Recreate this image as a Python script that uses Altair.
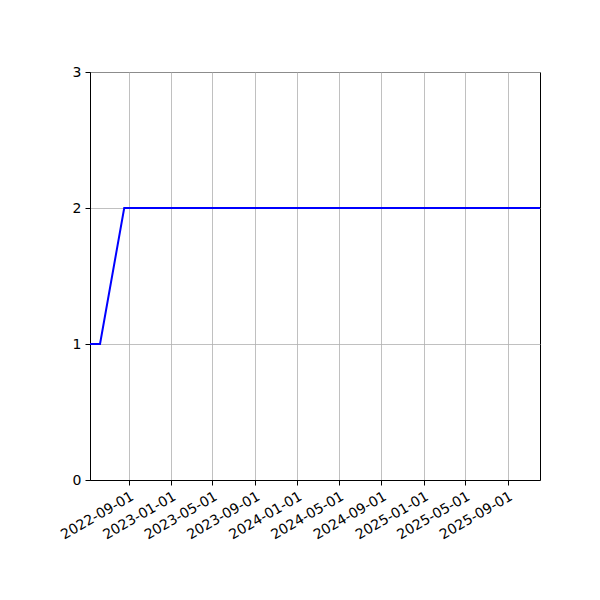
import pandas as pd
import altair as alt

# Data
dates = ['2022-05-12', '2022-06-10', '2022-08-19', '2025-12-04']
values = [1, 1, 2, 2]
tick_dates = [(2022, 9), (2023, 1), (2023, 5), (2023, 9), (2024, 1),
              (2024, 5), (2024, 9), (2025, 1), (2025, 5), (2025, 9)]
y_ticks = [0, 1, 2, 3]

df = pd.DataFrame({'date': dates, 'value': values})

tick_values = [alt.DateTime(year=y, month=m, date=1, utc=True) for y, m in tick_dates]
x_domain = [alt.DateTime(year=2022, month=5, date=12, utc=True),
            alt.DateTime(year=2025, month=12, date=4, utc=True)]

font = 'DejaVu Sans'

line = alt.Chart(df).mark_line(color='#0000ff', strokeWidth=2, clip=True).encode(
    x=alt.X('date:T',
            scale=alt.Scale(type='utc', domain=x_domain, nice=False),
            axis=alt.Axis(values=tick_values, format='%Y-%m-%d', title=None,
                          labelAngle=330, labelAlign='right', labelBaseline='top',
                          labelPadding=4, tickSize=5, tickColor='black',
                          domainColor='black', gridColor='#b0b0b0', gridWidth=0.8,
                          labelColor='black', labelFontSize=14, labelFont=font,
                          labelOverlap=False, labelBound=False, labelFlush=False)),
    y=alt.Y('value:Q',
            scale=alt.Scale(domain=[0, 3], nice=False, zero=False),
            axis=alt.Axis(values=y_ticks, format='d', title=None,
                          tickSize=5, tickColor='black', labelPadding=4,
                          domainColor='black', gridColor='#b0b0b0', gridWidth=0.8,
                          labelColor='black', labelFontSize=14, labelFont=font))
)

chart = line.properties(
    width=450,
    height=408,
    autosize=alt.AutoSizeParams(type='none'),
    padding={'left': 82, 'top': 64, 'right': 44, 'bottom': 104}
).configure_view(
    stroke='black',
    strokeWidth=1
)

chart.save("out.html", embed_options={"renderer": "svg", "actions": False})
